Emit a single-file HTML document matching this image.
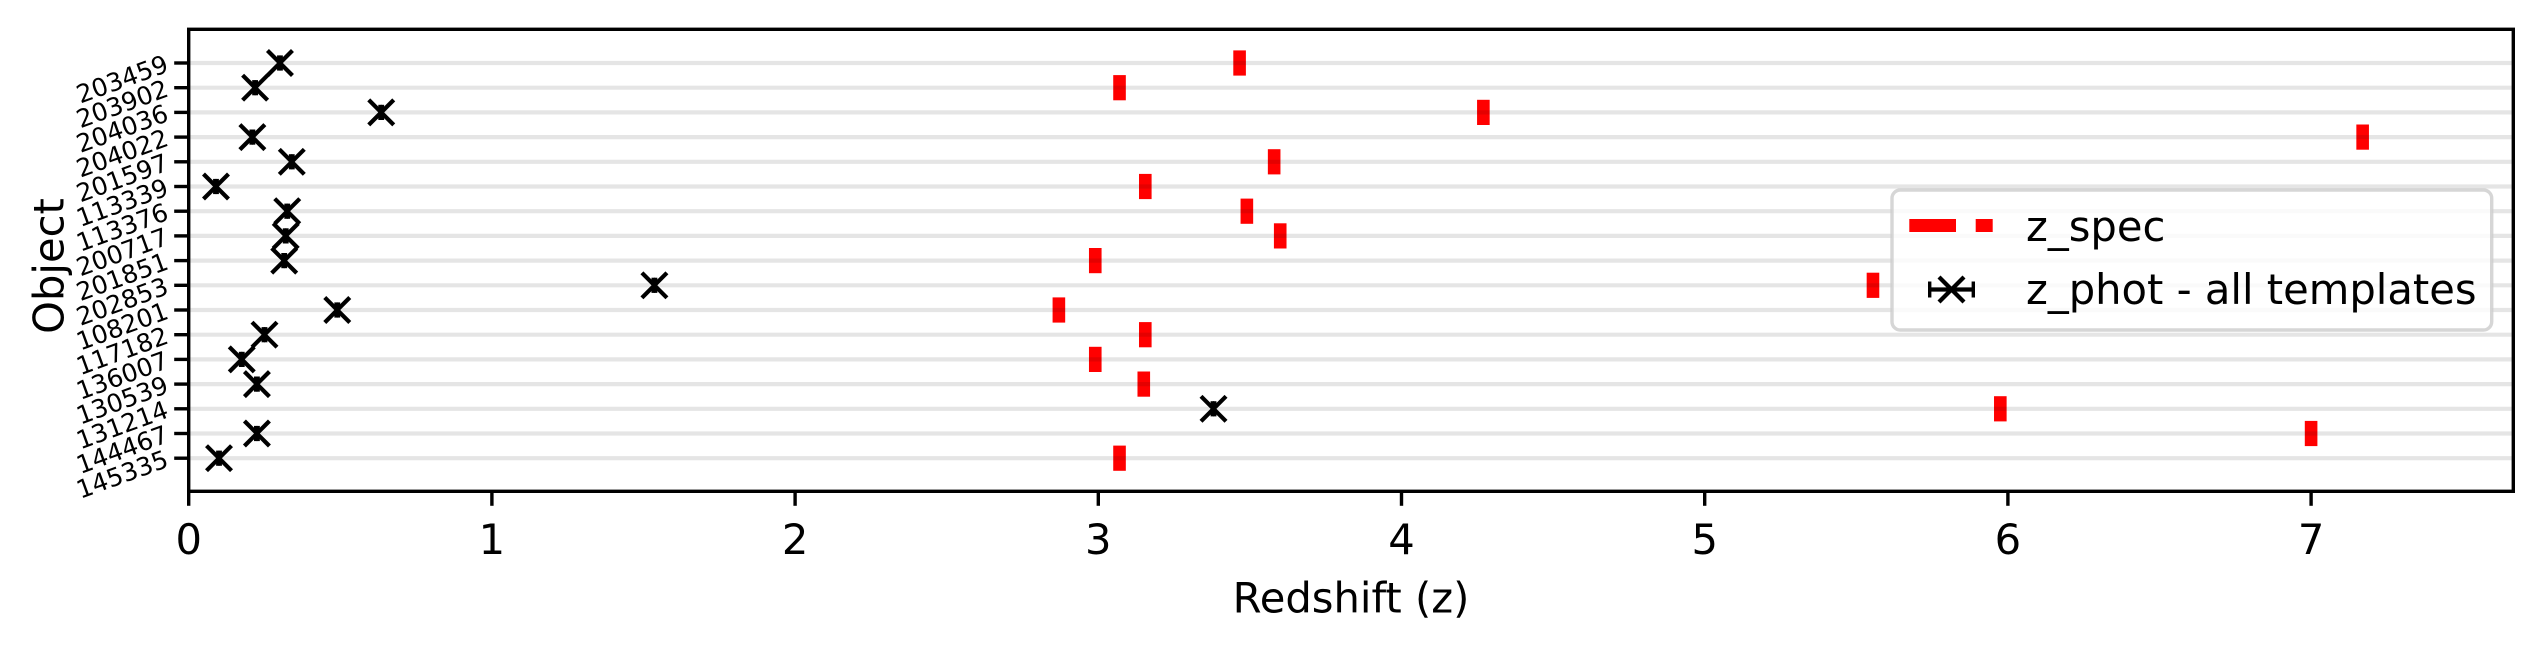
<!DOCTYPE html>
<html lang="en">
<head>
<meta charset="utf-8">
<title>Redshift by object</title>
<style>
html,body{margin:0;padding:0;background:#fff;}
svg{display:block;font-family:"DejaVu Sans","Liberation Sans",sans-serif;}
</style>
</head>
<body>
<svg id="chart" xmlns="http://www.w3.org/2000/svg" width="2543" height="651" viewBox="0 0 2543 651">
  <rect x="0" y="0" width="2543" height="651" fill="#fff"/>
  <g id="spec-layer"></g>
  <g id="grid-layer"></g>
  <g id="phot-layer"></g>
  <rect x="188.7" y="29.3" width="2324.6" height="462" fill="none" stroke="#000" stroke-width="3.4"/>
  <g id="x-axis"></g>
  <g id="y-axis"></g>
  <text x="1351" y="612.5" font-size="41.67" text-anchor="middle" fill="#000">Redshift (z)</text>
  <text transform="translate(63.5,266) rotate(-90)" font-size="41.67" text-anchor="middle" fill="#000">Object</text>
  <g>
    <rect x="1892" y="190" width="599.7" height="140" rx="8.3" ry="8.3" fill="#fff" fill-opacity="0.8" stroke="#ccc" stroke-opacity="0.8" stroke-width="3.4"/>
    <line x1="1909.3" y1="225.5" x2="1992.7" y2="225.5" stroke="#f00" stroke-width="13" stroke-dasharray="46.7 19.7"/>
    <text x="2026" y="241" font-size="41.67" fill="#000">z_spec</text>
    <g stroke="#000" fill="none">
      <line x1="1929" y1="289.5" x2="1974" y2="289.5" stroke-width="4.2"/>
      <line x1="1929.7" y1="281.5" x2="1929.7" y2="297.5" stroke-width="3.4"/>
      <line x1="1973.3" y1="281.5" x2="1973.3" y2="297.5" stroke-width="3.4"/>
      <line x1="1939" y1="277" x2="1964" y2="302" stroke-width="4.2"/>
      <line x1="1939" y1="302" x2="1964" y2="277" stroke-width="4.2"/>
    </g>
    <text x="2026" y="304" font-size="41.67" fill="#000">z_phot - all templates</text>
  </g>
</svg>
<script>
const objects = ["203459","203902","204036","204022","201597","113339","113376","200717","201851","202853","108201","117182","136007","130539","131214","144467","145335"];
const zSpec = [3.466,3.07,4.27,7.17,3.58,3.155,3.49,3.60,2.99,5.555,2.87,3.155,2.99,3.15,5.975,7.00,3.07];
const zPhot = [0.301,0.219,0.635,0.21,0.34,0.09,0.325,0.32,0.315,1.536,0.49,0.25,0.175,0.225,3.38,0.225,0.10];
const zPhotErr = [0.004,0.004,0.004,0.004,0.004,0.004,0.004,0.004,0.004,0.004,0.004,0.004,0.004,0.004,0.004,0.004,0.004];
const xTicks = [0,1,2,3,4,5,6,7];

const NS = 'http://www.w3.org/2000/svg';
function xScale(z){ return 188.7 + z * 303.2; }
function yScale(i){ return 63 + i * 24.7; }
function mk(tag, attrs, parent){
  const el = document.createElementNS(NS, tag);
  for (const k in attrs) el.setAttribute(k, attrs[k]);
  parent.appendChild(el);
  return el;
}
const specLayer = document.getElementById('spec-layer');
const gridLayer = document.getElementById('grid-layer');
const photLayer = document.getElementById('phot-layer');
const xAxis = document.getElementById('x-axis');
const yAxis = document.getElementById('y-axis');

objects.forEach(function(name, i){
  const y = yScale(i);

  const spec = mk('rect', {x: xScale(zSpec[i]) - 6.3, y: y - 12.6, width: 12.6, height: 25.2, fill: '#f00'}, specLayer);
  
  

  const grid = mk('line', {x1: 188.7, x2: 2513.3, y1: y, y2: y, stroke: '#000', 'stroke-opacity': 0.1, 'stroke-width': 4.2}, gridLayer);
  
  

  const x = xScale(zPhot[i]);
  const lo = xScale(zPhot[i] - zPhotErr[i]);
  const hi = xScale(zPhot[i] + zPhotErr[i]);
  const g = mk('g', {stroke: '#000', fill: 'none'}, photLayer);
  
  
  mk('line', {x1: lo, x2: hi, y1: y, y2: y, 'stroke-width': 4.2}, g);
  mk('line', {x1: lo, x2: lo, y1: y - 7.6, y2: y + 7.6, 'stroke-width': 3.4}, g);
  mk('line', {x1: hi, x2: hi, y1: y - 7.6, y2: y + 7.6, 'stroke-width': 3.4}, g);
  mk('line', {x1: x - 12.5, x2: x + 12.5, y1: y - 12.5, y2: y + 12.5, 'stroke-width': 4.2}, g);
  mk('line', {x1: x - 12.5, x2: x + 12.5, y1: y + 12.5, y2: y - 12.5, 'stroke-width': 4.2}, g);

  const tick = mk('line', {x1: 174.2, x2: 188.7, y1: y, y2: y, stroke: '#000', 'stroke-width': 3.4}, yAxis);
  
  

  const label = mk('text', {transform: 'translate(170,' + (y + 8) + ') rotate(-20)', 'font-size': 25, 'text-anchor': 'end', fill: '#000'}, yAxis);
  label.textContent = name;
  
  
});

xTicks.forEach(function(t){
  const x = xScale(t);
  const tick = mk('line', {x1: x, x2: x, y1: 491.3, y2: 505.8, stroke: '#000', 'stroke-width': 3.4}, xAxis);
  
  

  const label = mk('text', {x: x, y: 554, 'font-size': 41.67, 'text-anchor': 'middle', fill: '#000'}, xAxis);
  label.textContent = String(t);
  
  
});
</script>
</body>
</html>
